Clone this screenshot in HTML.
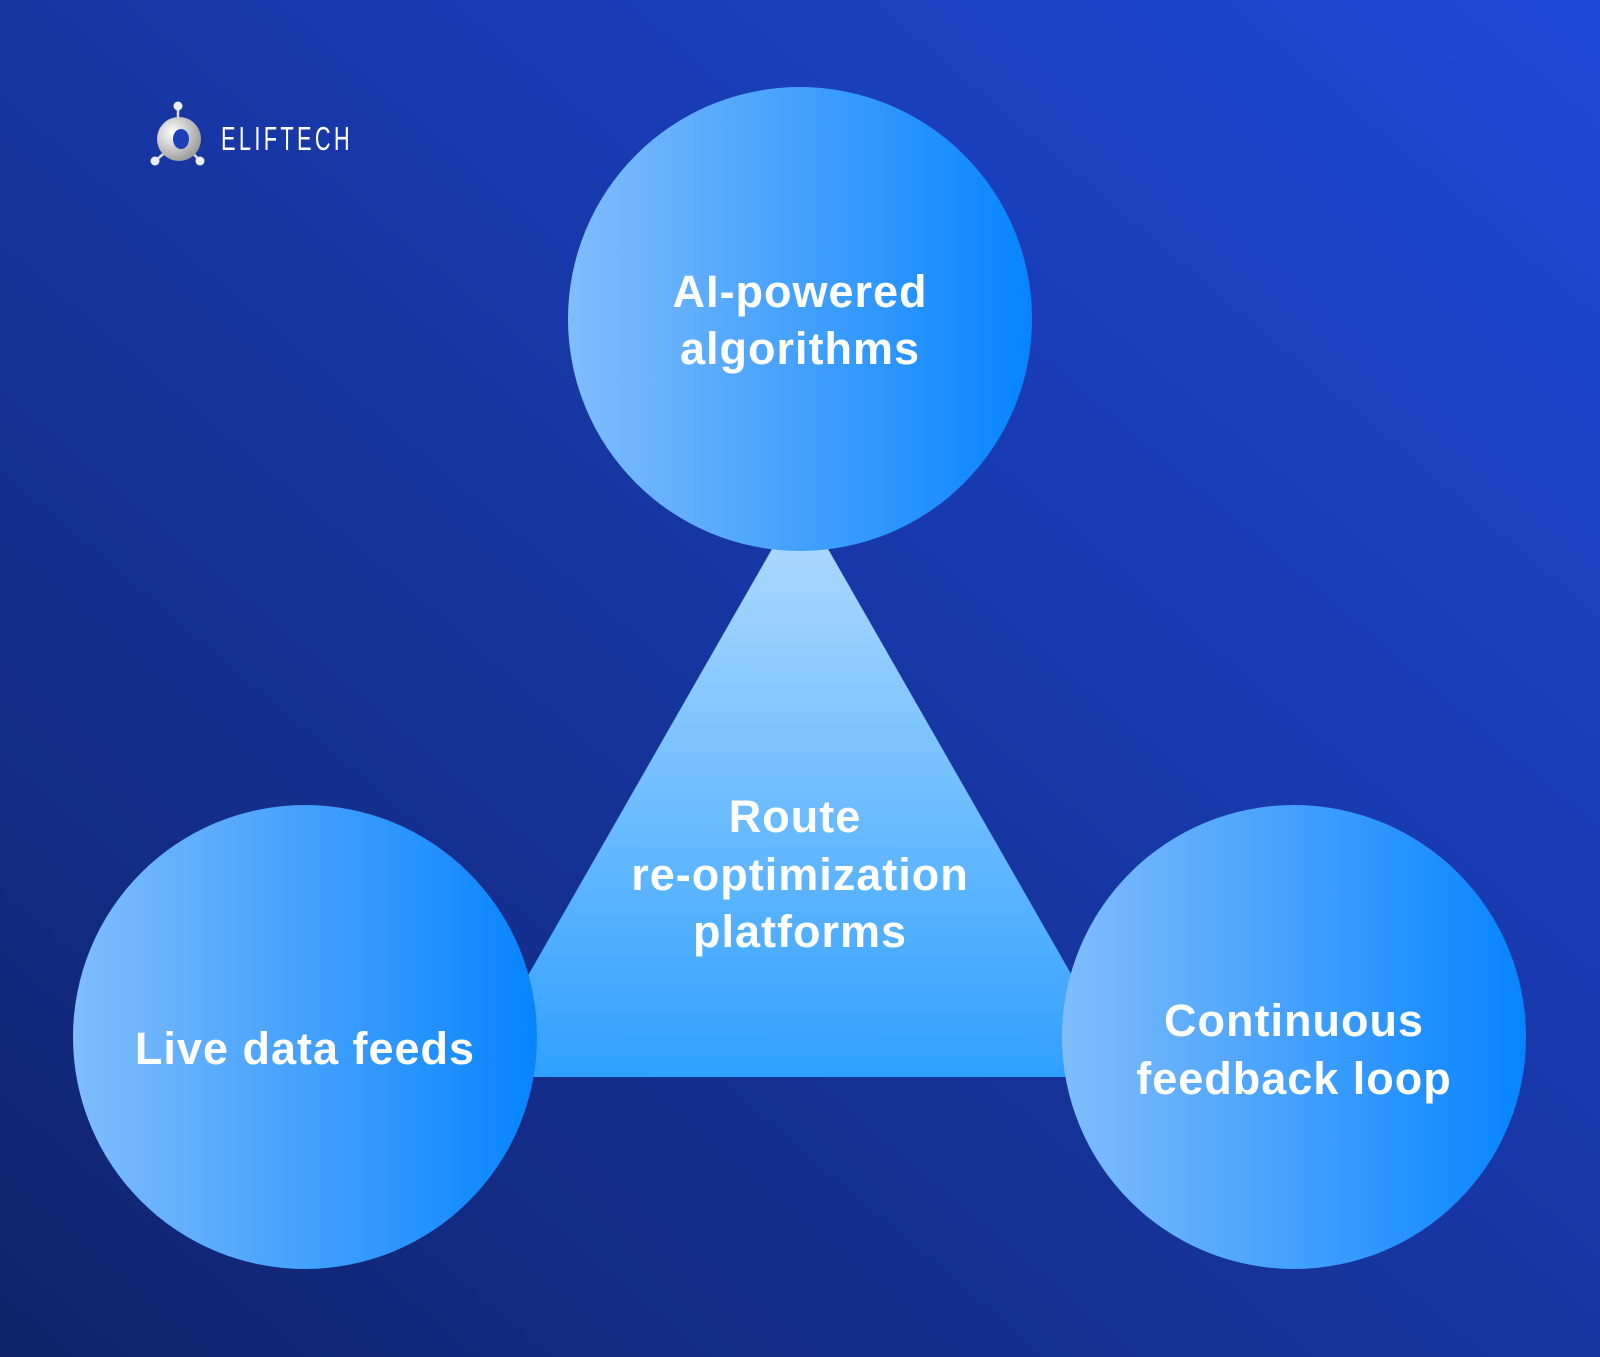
<!DOCTYPE html>
<html><head><meta charset="utf-8"><style>
html,body{margin:0;padding:0;width:1600px;height:1357px;overflow:hidden}
text{font-family:"Liberation Sans",Arial,sans-serif;font-weight:bold;fill:#fff}
</style></head><body>
<svg width="1600" height="1357" viewBox="0 0 1600 1357" xmlns="http://www.w3.org/2000/svg">
<defs>
<linearGradient id="bg" x1="1" y1="0" x2="0" y2="1">
<stop offset="0" stop-color="#1e49d8"/><stop offset="1" stop-color="#10236c"/>
</linearGradient>
<linearGradient id="c" x1="0" y1="0" x2="1" y2="0">
<stop offset="0" stop-color="#80bdfb"/><stop offset="1" stop-color="#0784ff"/>
</linearGradient>
<linearGradient id="t" x1="0" y1="0" x2="0" y2="1">
<stop offset="0" stop-color="#b4dcff"/><stop offset="1" stop-color="#30a0ff"/>
</linearGradient>
<radialGradient id="lg" cx="0.35" cy="0.35" r="0.7">
<stop offset="0" stop-color="#ffffff"/><stop offset="1" stop-color="#9a9a9a"/>
</radialGradient>
</defs>
<rect width="1600" height="1357" fill="url(#bg)"/>
<polygon points="800,500 470,1077 1130,1077" fill="url(#t)"/>
<circle cx="800" cy="319" r="232" fill="url(#c)"/>
<circle cx="305" cy="1037" r="232" fill="url(#c)"/>
<circle cx="1294" cy="1037" r="232" fill="url(#c)"/>
<g stroke="#ddd" stroke-width="2.5">
<line x1="178" y1="107" x2="178" y2="125"/><line x1="168" y1="150" x2="155" y2="161"/><line x1="190" y1="150" x2="200" y2="161"/>
</g>
<circle cx="178" cy="106" r="4.5" fill="#eee"/><circle cx="155" cy="161" r="4.5" fill="#eee"/><circle cx="200" cy="161" r="4.5" fill="#eee"/>
<circle cx="179" cy="139" r="22" fill="url(#lg)"/>
<ellipse cx="181" cy="139" rx="8" ry="10" fill="#1c3fb8"/>
<text x="221" y="150" style="font-weight:normal;font-size:33px;letter-spacing:5px" textLength="132" lengthAdjust="spacingAndGlyphs">ELIFTECH</text>
<g font-size="45" text-anchor="middle" style="letter-spacing:1px">
<text x="800" y="307">AI-powered</text>
<text x="800" y="364">algorithms</text>
<text x="795" y="832">Route</text>
<text x="800" y="890">re-optimization</text>
<text x="800" y="947">platforms</text>
<text x="305" y="1064">Live data feeds</text>
<text x="1294" y="1036">Continuous</text>
<text x="1294" y="1094">feedback loop</text>
</g>
</svg>
</body></html>
